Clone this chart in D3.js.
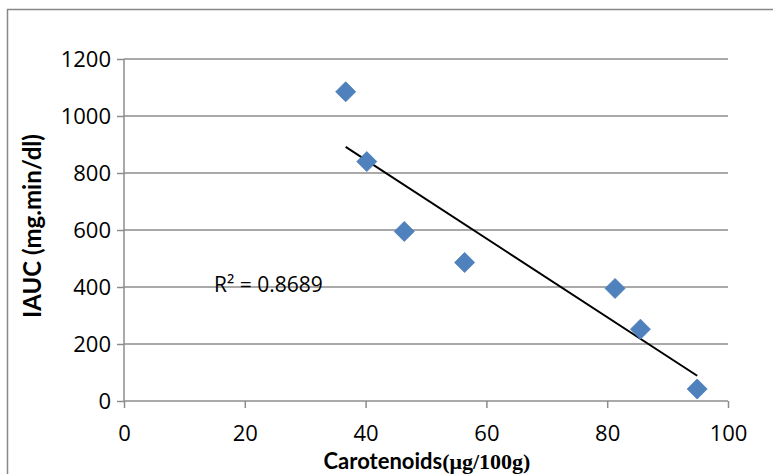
<!DOCTYPE html>
<html>
<head>
<meta charset="utf-8">
<script src="https://cdn.jsdelivr.net/npm/d3@7"></script>
<style>
  body { margin: 0; background: #fff; }
  svg { display: block; }
  .tick text { font-family: 'Open Sans', Lato, sans-serif; font-size: 22px; fill: #000; }
</style>
</head>
<body>
<svg id="chart"></svg>
<script>
const WIDTH = 773;
const HEIGHT = 474;

// carotenoids (ug/100g) vs IAUC (mg.min/dl)
const carotenoids = [36.7, 40.2, 46.4, 56.4, 81.3, 85.5, 94.9];
const iauc = [1085, 840, 595, 486, 395, 252, 42];
const xTicks = [0, 20, 40, 60, 80, 100];
const yTicks = [0, 200, 400, 600, 800, 1000, 1200];
const rSquaredLabel = 'R² = 0.8689';

const BLUE = '#4f81bd';
const GRID = '#8c8c8c';

const svg = d3.select('#chart')
  .attr('width', WIDTH)
  .attr('height', HEIGHT);

// outer chart frame (runs off the right and bottom edges)
svg.append('rect')
  .attr('x', 7.5)
  .attr('y', 9.5)
  .attr('width', 800)
  .attr('height', 500)
  .attr('fill', '#fff')
  .attr('stroke', '#878787')
  .attr('stroke-width', 1.5);

const x = d3.scaleLinear()
  .domain([0, 100])
  .range([124, 728]);

const y = d3.scaleLinear()
  .domain([0, 1200])
  .range([401, 59]);

// horizontal gridlines
svg.append('g')
  .selectAll('line')
  .data(yTicks.filter(d => d > 0))
  .enter()
  .append('line')
  .attr('x1', x(0))
  .attr('x2', x(100))
  .attr('y1', d => y(d))
  .attr('y2', d => y(d))
  .attr('stroke', GRID)
  .attr('stroke-width', 1.5);

const yAxis = svg.append('g')
  .attr('transform', `translate(${x(0)},0)`)
  .call(d3.axisLeft(y).tickValues(yTicks).tickFormat(d3.format('d')).tickSize(7).tickPadding(6));

const xAxis = svg.append('g')
  .attr('transform', `translate(0,${y(0)})`)
  .call(d3.axisBottom(x).tickValues(xTicks).tickFormat(d3.format('d')).tickSize(7).tickPadding(17));

[yAxis, xAxis].forEach(ax => {
  ax.select('.domain').attr('stroke', GRID).attr('stroke-width', 1.5);
  ax.selectAll('.tick line').attr('stroke', GRID).attr('stroke-width', 1.5);
});
xAxis.select('.domain').attr('d', `M${x(0)},0H${x(100)}`);
yAxis.select('.domain').attr('d', `M0,${y(0)}V${y(1200)}`);

// least squares trendline over the data range
const n = carotenoids.length;
const mx = d3.mean(carotenoids);
const my = d3.mean(iauc);
let sxy = 0;
let sxx = 0;
for (let i = 0; i < n; i += 1) {
  sxy += (carotenoids[i] - mx) * (iauc[i] - my);
  sxx += (carotenoids[i] - mx) ** 2;
}
const slope = sxy / sxx;
const intercept = my - slope * mx;
const xMin = d3.min(carotenoids);
const xMax = d3.max(carotenoids);

svg.append('line')
  .attr('x1', x(xMin))
  .attr('y1', y(intercept + slope * xMin))
  .attr('x2', x(xMax))
  .attr('y2', y(intercept + slope * xMax))
  .attr('stroke', '#000')
  .attr('stroke-width', 2);

// diamond markers
const diamond = d3.symbol().type(d3.symbolSquare).size(200);
svg.append('g')
  .selectAll('path')
  .data(carotenoids.map((c, i) => ({ c, v: iauc[i] })))
  .enter()
  .append('path')
  .attr('d', diamond)
  .attr('transform', d => `translate(${x(d.c)},${y(d.v)}) rotate(45)`)
  .attr('fill', BLUE)
  .attr('stroke', '#4a7ebb')
  .attr('stroke-width', 0.8);

svg.append('text')
  .attr('x', 214)
  .attr('y', 292)
  .style('font-family', "'Open Sans', Lato, sans-serif")
  .style('font-size', '21px')
  .text(rSquaredLabel);

// axis titles
svg.append('text')
  .attr('transform', 'translate(41,226) rotate(-90)')
  .attr('text-anchor', 'middle')
  .style('font-family', "Lato, 'Open Sans', sans-serif")
  .style('font-weight', 'bold')
  .style('font-size', '24px')
  .text('IAUC (mg.min/dl)');

const xTitle = svg.append('text')
  .attr('x', 427)
  .attr('y', 469)
  .attr('text-anchor', 'middle')
  .style('font-weight', 'bold')
  .style('font-size', '22px');
xTitle.append('tspan')
  .style('font-family', "Lato, 'Open Sans', sans-serif")
  .text('Carotenoids');
xTitle.append('tspan')
  .style('font-family', "'Liberation Serif', serif")
  .text('(μg/100g)');
</script>
</body>
</html>
